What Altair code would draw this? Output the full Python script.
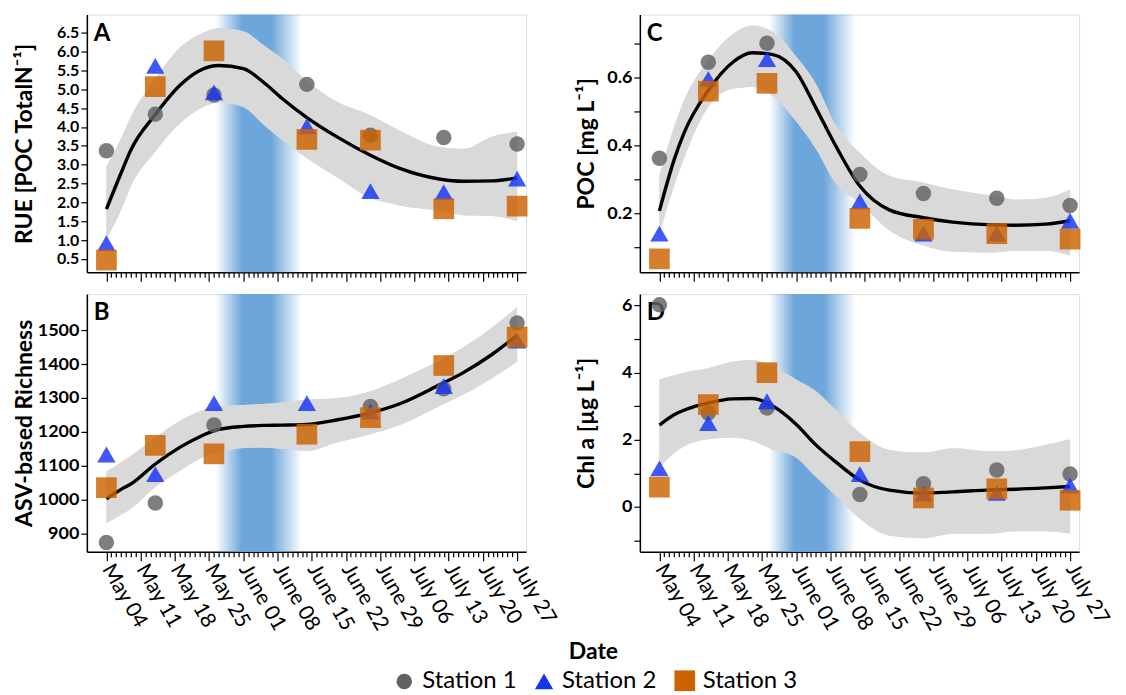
import altair as alt
import pandas as pd

# ---------------- data ----------------
stations = ["Station 1", "Station 2", "Station 3"]
station_colors = ["#626262", "#1434f5", "#cc6200"]
station_shapes = ["circle", "triangle-up", "square"]
station_sizes = [240, 430, 290]

sample_dates = ["2020-05-04", "2020-05-14", "2020-05-26", "2020-06-14",
                "2020-06-27", "2020-07-12", "2020-07-27"]

# Panel A: RUE
rue_s1 = [3.37, 4.34, 4.85, 5.13, 3.78, 3.72, 3.55]
rue_s2 = [0.92, 5.62, 4.92, 4.02, 2.30, 2.27, 2.63]
rue_s3 = [0.47, 5.07, 6.02, 3.67, 3.65, 1.83, 1.90]
# Panel B: ASV-based richness (station 1 hidden on 14 June)
asv_s1 = [873, 990, 1220, None, 1275, 1327, 1522]
asv_s2 = [1133, 1075, 1285, 1285, 1260, 1335, 1470]
asv_s3 = [1035, 1160, 1135, 1193, 1242, 1396, 1480]
# Panel C: POC
poc_s1 = [0.362, 0.644, 0.700, 0.314, 0.258, 0.244, 0.223]
poc_s2 = [0.140, 0.595, 0.653, 0.235, 0.140, 0.140, 0.178]
poc_s3 = [0.066, 0.559, 0.582, 0.185, 0.153, 0.140, 0.124]
# Panel D: Chl a
chl_s1 = [6.02, 2.80, 2.95, 0.37, 0.69, 1.10, 0.98]
chl_s2 = [1.15, 2.50, 3.15, 0.98, 0.40, 0.42, 0.64]
chl_s3 = [0.59, 3.05, 4.00, 1.65, 0.27, 0.54, 0.20]

# smoothed fits with confidence band
curve_dates = ["2020-05-04", "2020-05-07", "2020-05-09", "2020-05-14", "2020-05-19",
               "2020-05-23", "2020-05-27", "2020-06-01", "2020-06-05", "2020-06-09",
               "2020-06-14", "2020-06-20", "2020-06-27", "2020-07-03", "2020-07-11",
               "2020-07-16", "2020-07-22", "2020-07-27"]
rue_fit = [1.82, 2.78, 3.39, 4.33, 5.10, 5.49, 5.63, 5.55, 5.20, 4.75, 4.25, 3.75, 3.25, 2.90, 2.62, 2.56, 2.57, 2.65]
rue_hi = [2.95, 3.70, 4.27, 5.27, 6.10, 6.45, 6.62, 6.54, 6.18, 5.80, 5.22, 4.68, 4.31, 3.90, 3.47, 3.42, 3.75, 3.87]
rue_lo = [1.03, 1.80, 2.43, 3.35, 4.09, 4.48, 4.65, 4.53, 4.08, 3.65, 3.17, 2.68, 2.12, 1.92, 1.78, 1.66, 1.64, 1.51]

asv_fit = [1002, 1030, 1046, 1105, 1154, 1185, 1207, 1216, 1219, 1220, 1222, 1235, 1256, 1283, 1338, 1375, 1430, 1485]
asv_hi = [1082, 1110, 1129, 1183, 1232, 1260, 1274, 1279, 1282, 1287, 1295, 1299, 1320, 1355, 1410, 1450, 1510, 1568]
asv_lo = [930, 955, 973, 1037, 1085, 1120, 1140, 1152, 1154, 1150, 1144, 1168, 1193, 1220, 1275, 1310, 1360, 1407]

poc_fit = [0.207, 0.357, 0.435, 0.561, 0.644, 0.672, 0.667, 0.615, 0.510, 0.400, 0.280, 0.210, 0.187, 0.174, 0.166, 0.165, 0.168, 0.178]
poc_hi = [0.310, 0.454, 0.530, 0.649, 0.726, 0.752, 0.735, 0.660, 0.580, 0.460, 0.377, 0.310, 0.290, 0.270, 0.252, 0.240, 0.245, 0.270]
poc_lo = [0.140, 0.280, 0.360, 0.513, 0.566, 0.571, 0.548, 0.470, 0.390, 0.290, 0.231, 0.150, 0.105, 0.087, 0.085, 0.090, 0.090, 0.076]

chl_fit = [2.44, 2.75, 2.88, 3.10, 3.22, 3.23, 3.02, 2.46, 1.85, 1.35, 0.80, 0.50, 0.41, 0.45, 0.51, 0.53, 0.57, 0.61]
chl_hi = [3.79, 3.92, 4.00, 4.13, 4.33, 4.38, 4.20, 3.79, 3.45, 2.90, 2.20, 1.70, 1.62, 1.75, 1.65, 1.68, 1.85, 2.02]
chl_lo = [1.18, 1.60, 1.80, 2.02, 2.06, 1.97, 1.72, 1.47, 0.90, 0.35, -0.35, -0.85, -0.93, -0.80, -0.79, -0.72, -0.72, -0.79]

# shaded period (blue gradient)
shade_start = "2020-05-26 10:00"
shade_end = "2020-06-13 00:00"

FONT = "Lato"

# ---------------- helpers ----------------
x_ticks = [int(t.value // 10**6) for t in pd.date_range("2020-05-04", "2020-07-27", freq="D", tz="UTC")]
x_scale = alt.Scale(type="utc",
                    domain=[alt.DateTime(year=2020, month=4, date=30, utc=True),
                            alt.DateTime(year=2020, month=7, date=28, hours=20, utc=True)])

# gradient stops relative to the extent of the curve (first..last curve date)
_t0 = pd.Timestamp(curve_dates[0])
_t1 = pd.Timestamp(curve_dates[-1])
_fs = (pd.Timestamp(shade_start) - _t0) / (_t1 - _t0)
_fe = (pd.Timestamp(shade_end) - _t0) / (_t1 - _t0)
_w = _fe - _fs
BLUE0 = "rgba(108,166,219,0)"
BLUE1 = "rgba(108,166,219,1)"
shade_gradient = alt.LinearGradient(
    gradient="linear", x1=0, x2=1, y1=0, y2=0,
    stops=[alt.GradientStop(color=BLUE0, offset=0),
           alt.GradientStop(color=BLUE0, offset=_fs),
           alt.GradientStop(color=BLUE1, offset=_fs + 0.30 * _w),
           alt.GradientStop(color=BLUE1, offset=_fs + 0.64 * _w),
           alt.GradientStop(color=BLUE0, offset=_fe),
           alt.GradientStop(color=BLUE0, offset=1)])

major_test = "utcday(datum.value) == 1"


def x_axis(bottom, title=None):
    kw = dict(values=x_ticks, grid=False, labelOverlap=False,
              tickSize={"condition": {"test": major_test, "value": 9}, "value": 5},
              domainColor="black", tickColor="black", domainWidth=1.5, tickWidth=1.2)
    if bottom:
        kw.update(labels=True, labelAngle=60, labelFontSize=21, labelFont=FONT,
                  labelColor="black", labelPadding=5,
                  labelExpr="utcday(datum.value) == 1 ? utcFormat(datum.value, '%B %d') : ''")
    else:
        kw.update(labels=False)
    if title:
        kw.update(title=title, titleFont=FONT, titleFontSize=23, titleFontWeight="bold",
                  titleColor="black", titleX=507, titleY=100, titleAlign="center",
                  titleBaseline="middle", titleAnchor="start")
    else:
        kw.update(title=None)
    return alt.Axis(**kw)


def panel(letter, s1, s2, s3, fit, hi, lo, domain, yvalues, ylabel_expr, ytitle,
          title_x, bottom, xtitle=None, label_size=18):
    xa = x_axis(bottom, xtitle)
    ys = alt.Scale(domain=domain, nice=False, zero=False)
    ya = alt.Axis(values=yvalues, labelExpr=ylabel_expr, grid=False, title=ytitle,
                  labelFont=FONT, labelFontSize=label_size, labelFontWeight="bold",
                  labelColor="black", labelOverlap=False,
                  titleFont=FONT, titleFontSize=23, titleFontWeight="bold", titleColor="black",
                  titleX=title_x, titleBaseline="bottom",
                  tickSize=6, domainColor="black", tickColor="black", domainWidth=1.5,
                  tickWidth=1.2, labelPadding=2)

    pts_rows = []
    for st, vals in zip(stations, [s1, s2, s3]):
        for d, v in zip(sample_dates, vals):
            if v is not None:
                pts_rows.append({"date": d, "value": v, "station": st})
    pts = pd.DataFrame(pts_rows)
    curve = pd.DataFrame({"date": curve_dates, "fit": fit, "hi": hi, "lo": lo,
                          "top": [domain[1]] * len(curve_dates),
                          "bot": [domain[0]] * len(curve_dates)})

    xenc = alt.X("date:T", scale=x_scale, axis=xa)

    band_under = alt.Chart(curve).mark_area(color="#d9d9d9", opacity=1, interpolate="monotone").encode(
        x=xenc, y=alt.Y("lo:Q", scale=ys, axis=ya), y2="hi:Q", order=alt.value(0))

    # blue period shading, drawn only outside the confidence band (band stays opaque grey)
    shade_top = alt.Chart(curve).mark_area(color=shade_gradient, interpolate="monotone").encode(
        x=xenc, y=alt.Y("top:Q", scale=ys, axis=ya), y2="hi:Q", order=alt.value(1))
    shade_bot = alt.Chart(curve).mark_area(color=shade_gradient, interpolate="monotone").encode(
        x=xenc, y=alt.Y("lo:Q", scale=ys, axis=ya), y2="bot:Q", order=alt.value(1))

    band = alt.Chart(curve).mark_area(color="#d9d9d9", opacity=1, interpolate="monotone").encode(
        x=xenc, y=alt.Y("lo:Q", scale=ys, axis=ya), y2="hi:Q", order=alt.value(2))
    line = alt.Chart(curve).mark_line(color="black", strokeWidth=3.4, interpolate="monotone").encode(
        x=xenc, y=alt.Y("fit:Q", scale=ys, axis=ya), order=alt.value(3))

    leg = alt.Legend(orient="none", legendX=306, legendY=655, direction="horizontal", title=None,
                     labelFont=FONT, labelFontSize=24, labelColor="black", symbolOpacity=1,
                     columnPadding=14, labelOffset=6, padding=0)
    points = alt.Chart(pts).mark_point(filled=True, opacity=0.82, strokeWidth=0).encode(
        x=xenc, y=alt.Y("value:Q", scale=ys, axis=ya),
        color=alt.Color("station:N", scale=alt.Scale(domain=stations, range=station_colors), legend=leg),
        shape=alt.Shape("station:N", scale=alt.Scale(domain=stations, range=station_shapes), legend=leg),
        size=alt.Size("station:N", scale=alt.Scale(domain=stations, range=station_sizes), legend=leg),
        order=alt.value(5))

    lab = alt.Chart(pd.DataFrame({"t": [letter]})).mark_text(
        align="left", baseline="middle", font=FONT, fontSize=24, fontWeight="bold", color="black"
    ).encode(text="t:N", x=alt.value(7), y=alt.value(19), order=alt.value(4))

    return alt.layer(band_under, shade_top, shade_bot, band, line, lab, points).properties(
        width=440, height=258)


fmt1 = "format(datum.value, '.1f')"
A = panel("A", rue_s1, rue_s2, rue_s3, rue_fit, rue_hi, rue_lo, [0.15, 6.98],
          [0.5, 1.0, 1.5, 2.0, 2.5, 3.0, 3.5, 4.0, 4.5, 5.0, 5.5, 6.0, 6.5], fmt1,
          "RUE  [POC TotalN\u207b\u00b9]", -50, bottom=False, label_size=16)
B = panel("B", asv_s1, asv_s2, asv_s3, asv_fit, asv_hi, asv_lo, [846, 1607],
          [900, 1000, 1100, 1200, 1300, 1400, 1500], "format(datum.value, 'd')",
          "ASV-based Richness", -50, bottom=True, xtitle="Date")
C = panel("C", poc_s1, poc_s2, poc_s3, poc_fit, poc_hi, poc_lo, [0.027, 0.784],
          [0.1, 0.2, 0.3, 0.4, 0.5, 0.6, 0.7],
          "round(datum.value * 10) % 2 == 0 ? format(datum.value, '.1f') : ''",
          "POC [mg L\u207b\u00b9]", -41, bottom=False)
D = panel("D", chl_s1, chl_s2, chl_s3, chl_fit, chl_hi, chl_lo, [-1.33, 6.34],
          [-1, 0, 1, 2, 3, 4, 5, 6],
          "datum.value % 2 == 0 ? format(datum.value, 'd') : ''",
          "Chl a [\u00b5g L\u207b\u00b9]", -41, bottom=True)

chart = alt.concat(A, C, B, D, columns=2, spacing={"row": 22, "column": 114}, bounds="flush").resolve_scale(
    color="shared", shape="shared", size="shared"
).configure_view(stroke=None).configure(font=FONT)

chart.save("out.html", embed_options={"renderer": "svg", "actions": False})
